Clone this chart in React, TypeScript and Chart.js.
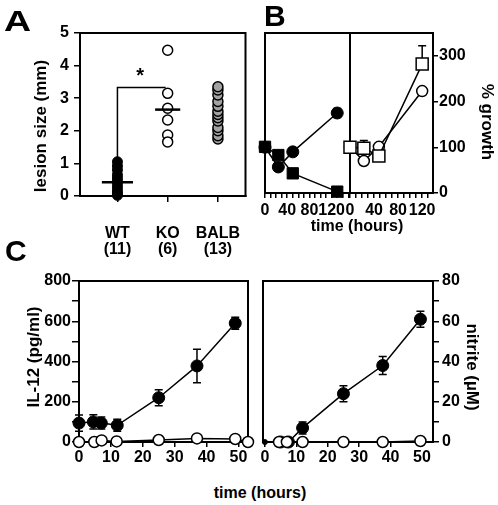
import React, { useEffect, useRef } from 'react';
import { Chart, registerables } from 'chart.js';

Chart.register(...registerables);

const FONT = "'Liberation Sans', Arial, Helvetica, sans-serif";

// ---------------- Panel A : lesion size ----------------
const groupNames = ['WT', 'KO', 'BALB'];
const groupCounts = ['(11)', '(6)', '(13)'];
const wtLesion = [0.02, 0.08, 0.15, 0.25, 0.35, 0.45, 0.55, 0.65, 0.8, 0.92, 1.05];
const koLesion = [4.47, 3.15, 2.69, 2.33, 1.87, 1.66];
const balbLesion = [1.75, 1.85, 2.0, 2.1, 2.3, 2.4, 2.5, 2.6, 2.75, 2.9, 3.1, 3.25, 3.35];
const wtMean = 0.42;
const koMean = 2.65;
const bracketLow = 1.0;
const bracketHigh = 3.33;
const lesionTicks = [0, 1, 2, 3, 4, 5];

// ---------------- Panel B : % growth ----------------
const growthLeftTimes = [0, 24, 50, 130];
const growthFilledCircle = [100, 57, 90, 175];
const growthFilledCircleErr = [0, 0, 0, 10];
const growthFilledSquare = [101, 83, 43, 3];
const growthRightTimes = [0, 23, 48, 120];
const growthOpenCircle = [100, 70, 101, 223];
const growthOpenSquare = [100, 98, 81, 282];
const growthOpenSquareErrUp = [0, 17, 0, 40];
const growthTimeTicks = [0, 10, 20, 30, 40, 50, 60, 70, 80, 90, 100, 110, 120, 130, 140, 150];
const growthTimeLabels = [0, 40, 80, 120];
const growthYTicks = [0, 100, 200, 300];

// ---------------- Panel C : IL-12 and nitrite ----------------
const il12FilledTimes = [0, 4.5, 7, 12, 25, 37, 49];
const il12Filled = [94, 100, 94, 83, 220, 378, 590];
const il12FilledErr = [40, 35, 30, 30, 40, 83, 30];
const il12OpenTimes = [0, 4.8, 7.1, 11.8, 25, 37, 49, 53];
const il12Open = [0, 0, 8, 3, 10, 18, 15, 0];
const il12Ticks = [0, 100, 200, 300, 400, 500, 600, 700, 800];
const nitriteFilledTimes = [0, 5, 7.5, 12, 25, 37.5, 49.5];
const nitriteFilled = [0, 0, 0, 7, 24, 38, 61];
const nitriteFilledErr = [0, 0, 0, 3, 4, 4.5, 4];
const nitriteOpenTimes = [4.5, 7, 12, 25, 37.5, 49.5];
const nitriteOpen = [0, 0, 0, 0, 0, 0.5];
const nitriteTicks = [0, 10, 20, 30, 40, 50, 60, 70, 80];
const cTimeTicks = [0, 10, 20, 30, 40, 50];

// ---------------- helpers ----------------
const pts = (xs: number[], ys: number[]) => xs.map((x, i) => ({ x, y: ys[i] }));

const framePlugin = {
  id: 'frame',
  beforeDatasetsDraw(chart: any) {
    const { ctx, chartArea: a } = chart;
    ctx.save();
    ctx.strokeStyle = '#000';
    ctx.lineWidth = 2;
    ctx.strokeRect(a.left, a.top, a.right - a.left, a.bottom - a.top);
    ctx.restore();
  },
};

const errorBarPlugin = {
  id: 'errorBars',
  beforeDatasetsDraw(chart: any) {
    const { ctx } = chart;
    chart.data.datasets.forEach((ds: any, di: number) => {
      const up = ds.errUp;
      const down = ds.errDown;
      if (!up && !down) return;
      const meta = chart.getDatasetMeta(di);
      const ys = chart.scales[meta.yAxisID];
      ctx.save();
      ctx.strokeStyle = '#000';
      ctx.lineWidth = 1.5;
      meta.data.forEach((el: any, i: number) => {
        const v = ds.data[i].y;
        const eu = up ? up[i] : 0;
        const ed = down ? down[i] : 0;
        if (!eu && !ed) return;
        const x = el.x;
        const yT = ys.getPixelForValue(v + eu);
        const yB = ys.getPixelForValue(v - ed);
        ctx.beginPath();
        ctx.moveTo(x, yT);
        ctx.lineTo(x, yB);
        if (eu) { ctx.moveTo(x - 4, yT); ctx.lineTo(x + 4, yT); }
        if (ed) { ctx.moveTo(x - 4, yB); ctx.lineTo(x + 4, yB); }
        ctx.stroke();
      });
      ctx.restore();
    });
  },
};

const makeMarkPlugin = (text: string, x: number, y: number, size: number) => ({
  id: 'sigMark',
  afterDatasetsDraw(chart: any) {
    const { ctx, scales } = chart;
    ctx.save();
    ctx.fillStyle = '#000';
    ctx.font = `bold ${size}px ${FONT}`;
    ctx.textAlign = 'center';
    ctx.textBaseline = 'alphabetic';
    ctx.fillText(text, scales.x.getPixelForValue(x), scales.y.getPixelForValue(y));
    ctx.restore();
  },
});

const fixSize = (size: number) => (s: any) => {
  if (s.isHorizontal()) s.height = size; else s.width = size;
  s.paddingLeft = 0; s.paddingRight = 0; s.paddingTop = 0; s.paddingBottom = 0;
};
const setTicks = (values: number[]) => (s: any) => {
  s.ticks = values.map((v) => ({ value: v }));
};

const tickFont = { family: FONT, size: 16, weight: 'bold' as const, lineHeight: 1 };

const axis = (tickLength: number, padding: number, extra: any = {}) => ({
  type: 'linear',
  border: { display: true, color: '#000', width: 2 },
  grid: { drawOnChartArea: false, drawTicks: true, tickLength, color: '#000', lineWidth: 1.5 },
  ...extra,
  ticks: { color: '#000', font: tickFont, autoSkip: false, maxRotation: 0, minRotation: 0, padding, ...(extra.ticks || {}) },
});

const baseOptions = (padding: any, scales: any) => ({
  animation: false,
  responsive: false,
  events: [],
  layout: { padding },
  plugins: { legend: { display: false }, tooltip: { enabled: false } },
  scales,
});

const lineSet = (data: any[], o: any) => ({
  data,
  showLine: true,
  fill: false,
  tension: 0,
  borderColor: '#000',
  borderWidth: 1.5,
  clip: false,
  pointBorderColor: '#000',
  ...o,
});

// ---------------- chart configs ----------------
const configA = () => ({
  type: 'scatter',
  data: {
    datasets: [
      lineSet([{ x: -0.31, y: wtMean }, { x: 0.31, y: wtMean }], { borderWidth: 2.5, pointRadius: 0, order: 0 }),
      lineSet([{ x: 0.75, y: koMean }, { x: 1.25, y: koMean }], { borderWidth: 2.5, pointRadius: 0, order: 0 }),
      lineSet(wtLesion.map((y) => ({ x: 0, y })), { showLine: false, pointRadius: 5, pointBackgroundColor: '#000', pointBorderWidth: 1, order: 1 }),
      lineSet(koLesion.map((y) => ({ x: 1, y })), { showLine: false, pointRadius: 5, pointBackgroundColor: '#fff', pointBorderWidth: 1.5, order: 1 }),
      lineSet(balbLesion.map((y) => ({ x: 2, y })), { showLine: false, pointRadius: 5, pointBackgroundColor: '#a3a3a3', pointBorderWidth: 1.5, order: 1 }),
      lineSet([{ x: 0, y: bracketLow }, { x: 0, y: bracketHigh }, { x: 0.96, y: bracketHigh }], { pointRadius: 0, order: 5 }),
    ],
  },
  options: baseOptions({ top: 33, right: 4, left: 0, bottom: 0 }, {
    x: axis(6, 24, {
      min: -0.745, max: 2.549,
      afterBuildTicks: setTicks([0, 1, 2]),
      afterFit: fixSize(64),
      ticks: { callback: (v: number) => [groupNames[v], groupCounts[v]] },
    }),
    y: axis(6, 5, {
      min: 0, max: 5,
      afterBuildTicks: setTicks(lesionTicks),
      afterFit: fixSize(80),
    }),
  }),
  plugins: [framePlugin, makeMarkPlugin('*', 0.45, 3.5, 20)],
});

const growthX = (max: number) => axis(5, 5, {
  min: 0, max,
  afterBuildTicks: setTicks(growthTimeTicks.filter((t) => t <= max)),
  afterFit: fixSize(47),
  ticks: { callback: (v: number) => (growthTimeLabels.includes(v) ? String(v) : '') },
});

const configBLeft = () => ({
  type: 'scatter',
  data: {
    datasets: [
      lineSet(pts(growthLeftTimes, growthFilledSquare), { pointStyle: 'rect', pointRadius: 8, pointBackgroundColor: '#000', pointBorderWidth: 1, order: 0 }),
      lineSet(pts(growthLeftTimes, growthFilledCircle), { pointRadius: 6, pointBackgroundColor: '#000', pointBorderWidth: 1, order: 1, errUp: growthFilledCircleErr, errDown: growthFilledCircleErr }),
    ],
  },
  options: baseOptions({ top: 33, right: 15, left: 20, bottom: 0 }, {
    x: growthX(153),
    y: { type: 'linear', display: false, min: 0, max: 350 },
  }),
  plugins: [framePlugin, errorBarPlugin],
});

const configBRight = () => ({
  type: 'scatter',
  data: {
    datasets: [
      lineSet(pts(growthRightTimes, growthOpenSquare), { pointStyle: 'rect', pointRadius: 8.5, pointBackgroundColor: '#fff', pointBorderWidth: 1.5, order: 0, errUp: growthOpenSquareErrUp }),
      lineSet(pts(growthRightTimes, growthOpenCircle), { pointRadius: 5.5, pointBackgroundColor: '#fff', pointBorderWidth: 1.5, order: 1 }),
    ],
  },
  options: baseOptions({ top: 33, right: 0, left: 15, bottom: 0 }, {
    x: growthX(138),
    y: axis(5, 1, {
      position: 'right',
      min: 0, max: 350,
      afterBuildTicks: setTicks(growthYTicks),
      afterFit: fixSize(65),
    }),
  }),
  plugins: [framePlugin, errorBarPlugin],
});

const cTimeAxis = (min: number, max: number) => axis(5, 3, {
  min, max,
  afterBuildTicks: setTicks(cTimeTicks),
  afterFit: fixSize(30),
});

const configCLeft = () => ({
  type: 'scatter',
  data: {
    datasets: [
      lineSet(pts(il12OpenTimes, il12Open), { pointRadius: 5.5, pointBackgroundColor: '#fff', pointBorderWidth: 1.5, order: 0 }),
      lineSet(pts(il12FilledTimes, il12Filled), { pointRadius: 6, pointBackgroundColor: '#000', pointBorderWidth: 1, order: 1, errUp: il12FilledErr, errDown: il12FilledErr }),
    ],
  },
  options: baseOptions({ top: 31, right: 10, left: 0, bottom: 0 }, {
    x: cTimeAxis(0, 53),
    y: axis(7, 1, {
      min: 0, max: 800,
      afterBuildTicks: setTicks(il12Ticks),
      afterFit: fixSize(79),
      ticks: { callback: (v: number) => (v % 200 === 0 ? String(v) : '') },
    }),
  }),
  plugins: [framePlugin, errorBarPlugin],
});

const configCRight = () => ({
  type: 'scatter',
  data: {
    datasets: [
      lineSet(pts(nitriteOpenTimes, nitriteOpen), { pointRadius: 5.5, pointBackgroundColor: '#fff', pointBorderWidth: 1.5, order: 0 }),
      lineSet(pts(nitriteFilledTimes, nitriteFilled), { pointRadius: [2.5, 6, 6, 6, 6, 6, 6], pointBackgroundColor: '#000', pointBorderWidth: 1, order: 1, errUp: nitriteFilledErr, errDown: nitriteFilledErr }),
    ],
  },
  options: baseOptions({ top: 31, right: 0, left: 15, bottom: 0 }, {
    x: cTimeAxis(-0.6, 53.5),
    y: axis(6, 3, {
      position: 'right',
      min: 0, max: 80,
      afterBuildTicks: setTicks(nitriteTicks),
      afterFit: fixSize(65),
      ticks: { callback: (v: number) => (v % 20 === 0 ? String(v) : '') },
    }),
  }),
  plugins: [framePlugin, errorBarPlugin],
});

// ---------------- components ----------------
function ChartBox({ left, top, width, height, make }: { left: number; top: number; width: number; height: number; make: () => any }) {
  const ref = useRef<HTMLCanvasElement>(null);
  useEffect(() => {
    const chart = new Chart(ref.current as HTMLCanvasElement, make());
    return () => chart.destroy();
  }, []);
  return (
    <canvas
      ref={ref}
      width={width}
      height={height}
      style={{ position: 'absolute', left, top, width, height, display: 'block' }}
    />
  );
}

function Text({ x, y, size, rotate = 0, children }: { x: number; y: number; size: number; rotate?: number; children: React.ReactNode }) {
  return (
    <div
      style={{
        position: 'absolute',
        left: x,
        top: y,
        transform: `translate(-50%, -50%) rotate(${rotate}deg)`,
        font: `bold ${size}px ${FONT}`,
        lineHeight: 1,
        whiteSpace: 'nowrap',
        color: '#000',
      }}
    >
      {children}
    </div>
  );
}

function Letter({ x, y, sx = 1, children }: { x: number; y: number; sx?: number; children: React.ReactNode }) {
  return (
    <div
      style={{
        position: 'absolute',
        left: x,
        top: y,
        font: `bold 30px ${FONT}`,
        lineHeight: 1,
        color: '#000',
        transform: `scaleX(${sx})`,
        transformOrigin: 'left top',
      }}
    >
      {children}
    </div>
  );
}

export default function App() {
  return (
    <div style={{ position: 'absolute', left: 0, top: 0, width: 498, height: 505, background: '#fff', overflow: 'hidden' }}>
      <ChartBox left={0} top={0} width={252} height={260} make={configA} />
      <ChartBox left={245} top={0} width={120} height={240} make={configBLeft} />
      <ChartBox left={335} top={0} width={163} height={240} make={configBRight} />
      <ChartBox left={0} top={250} width={258} height={222} make={configCLeft} />
      <ChartBox left={248} top={250} width={250} height={222} make={configCRight} />

      <Letter x={4} y={6} sx={1.25}>A</Letter>
      <Letter x={264} y={1}>B</Letter>
      <Letter x={5} y={236}>C</Letter>

      <Text x={40} y={126} size={17} rotate={-90}>lesion size (mm)</Text>
      <Text x={487} y={122} size={17} rotate={90}>% growth</Text>
      <Text x={357} y={226} size={16}>time (hours)</Text>
      <Text x={33} y={357} size={17} rotate={-90}>IL-12 (pg/ml)</Text>
      <Text x={472} y={367} size={17} rotate={90}>nitrite (µM)</Text>
      <Text x={260} y={493} size={16}>time (hours)</Text>
    </div>
  );
}
